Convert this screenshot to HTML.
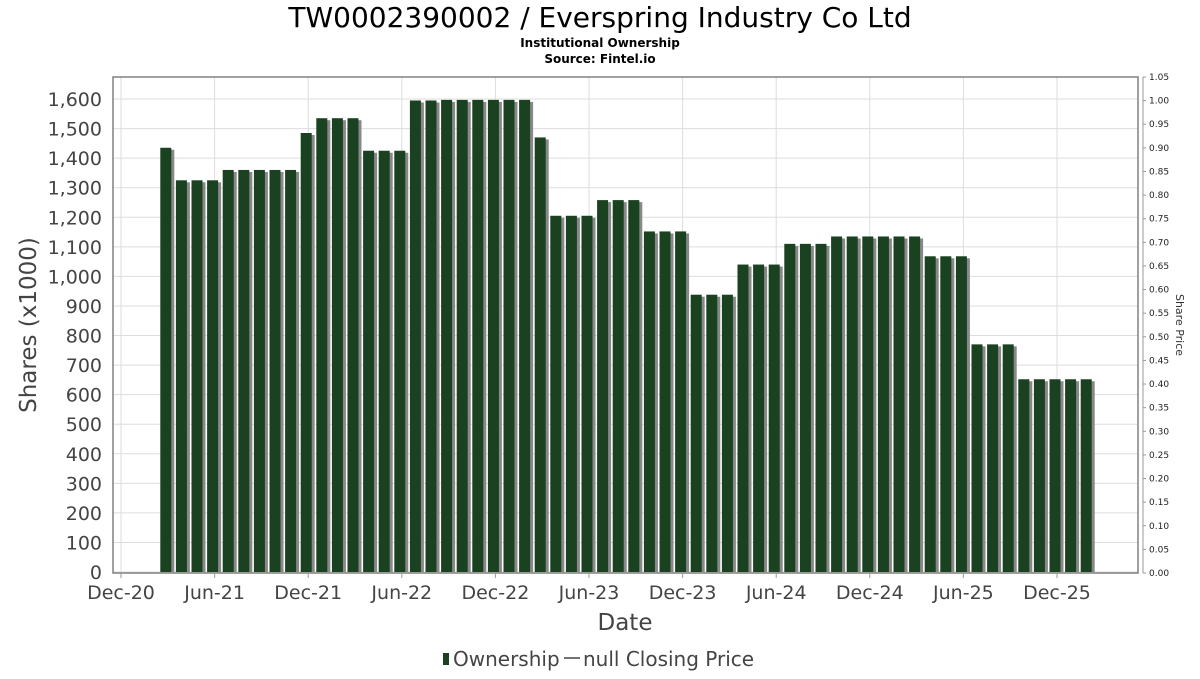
<!DOCTYPE html>
<html><head><meta charset="utf-8"><style>
body{margin:0;background:#fff;font-family:"DejaVu Sans","Liberation Sans",sans-serif;}
svg text{font-family:"DejaVu Sans","Liberation Sans",sans-serif;}
</style></head><body>
<svg id="chart" width="1200" height="675" xmlns="http://www.w3.org/2000/svg">
<text x="600" y="27" font-size="28" text-anchor="middle" fill="#000">TW0002390002 / Everspring Industry Co Ltd</text>
<text x="600" y="47" font-size="12" font-weight="bold" text-anchor="middle">Institutional Ownership</text>
<text x="600" y="63" font-size="12" font-weight="bold" text-anchor="middle">Source: Fintel.io</text>
<g id="grid"></g>
<g id="bars"></g>
<rect x="113" y="77" width="1025" height="496" fill="none" stroke="#808080" stroke-width="1.5"/>
<g id="axes"></g>
<text transform="translate(36,325) rotate(-90)" font-size="23" fill="#444" text-anchor="middle">Shares (x1000)</text>
<text transform="translate(1176,325) rotate(90)" font-size="11" fill="#333" text-anchor="middle">Share Price</text>
<text x="625" y="630" font-size="23" fill="#444" text-anchor="middle">Date</text>
<g>
<rect x="443" y="653" width="6" height="12" fill="#1a4220"/>
<text x="453" y="666" font-size="20" fill="#444">Ownership</text>
<line x1="564" y1="658" x2="580" y2="658" stroke="#444" stroke-width="1.5"/>
<text x="583" y="666" font-size="20" fill="#444">null Closing Price</text>
</g>
</svg>
<script>
const yTicks=[0,100,200,300,400,500,600,700,800,900,1000,1100,1200,1300,1400,1500,1600];
const priceTicks=[0,0.05,0.1,0.15,0.2,0.25,0.3,0.35,0.4,0.45,0.5,0.55,0.6,0.65,0.7,0.75,0.8,0.85,0.9,0.95,1.0,1.05];
const xTickLabels=["Dec-20","Jun-21","Dec-21","Jun-22","Dec-22","Jun-23","Dec-23","Jun-24","Dec-24","Jun-25","Dec-25"];
const startMonth="2021-03";
const ownership=[1435,1325,1325,1325,1360,1360,1360,1360,1360,1485,1535,1535,1535,1425,1425,1425,1595,1595,1597,1597,1597,1597,1597,1597,1470,1205,1205,1205,1258,1258,1258,1152,1152,1152,938,938,938,1040,1040,1040,1110,1110,1110,1135,1135,1135,1135,1135,1135,1068,1068,1068,770,770,770,652,652,652,652,652];

const NS="http://www.w3.org/2000/svg";
function mk(t,a,p){const e=document.createElementNS(NS,t);for(const k in a)e.setAttribute(k,a[k]);p.appendChild(e);return e;}
const y0=572,ppu=(572-99)/1600;
const yS=v=>y0-v*ppu;
const pS=v=>573-v*(496/1.05);
const xM=m=>121+m*(93.6/6);
const grid=document.getElementById('grid'),axes=document.getElementById('axes'),bars=document.getElementById('bars');
yTicks.forEach(v=>{
 const l=mk('line',{x1:113,x2:1138,y1:yS(v),y2:yS(v),stroke:'#ddd'},grid);
 
 const t=mk('text',{x:102,y:yS(v)+7,'font-size':19,fill:'#444','text-anchor':'end'},axes);
 t.textContent=v.toLocaleString('en-US');
 
});
priceTicks.forEach(v=>{
 mk('line',{x1:1143,x2:1146,y1:pS(v),y2:pS(v),stroke:'#999'},axes);
 const t=mk('text',{x:1149,y:pS(v)+3,'font-size':9,fill:'#222'},axes);
 t.textContent=v.toFixed(2);
 
});
mk('line',{x1:1143,x2:1143,y1:77,y2:573,stroke:'#999'},axes);
xTickLabels.forEach((s,i)=>{
 const x=xM(i*6);
 const l=mk('line',{x1:x,x2:x,y1:77,y2:573,stroke:'#ddd'},grid);
 
 mk('line',{x1:x,x2:x,y1:573,y2:578,stroke:'#999'},axes);
 const t=mk('text',{x:x,y:599,'font-size':19,fill:'#444','text-anchor':'middle'},axes);
 t.textContent=s;
 
});
const sm=(+startMonth.slice(0,4)-2020)*12+(+startMonth.slice(5))-12;
ownership.forEach((v,i)=>{
 const c=xM(sm+i)-2,w=11;
 const s=mk('rect',{x:c-w/2+3,y:yS(v)+2,width:w,height:y0-yS(v)-2,fill:'#888'},bars);
 
 const r=mk('rect',{x:c-w/2,y:yS(v),width:w,height:y0-yS(v),fill:'#1a4220'},bars);
 
});
</script>
</body></html>
